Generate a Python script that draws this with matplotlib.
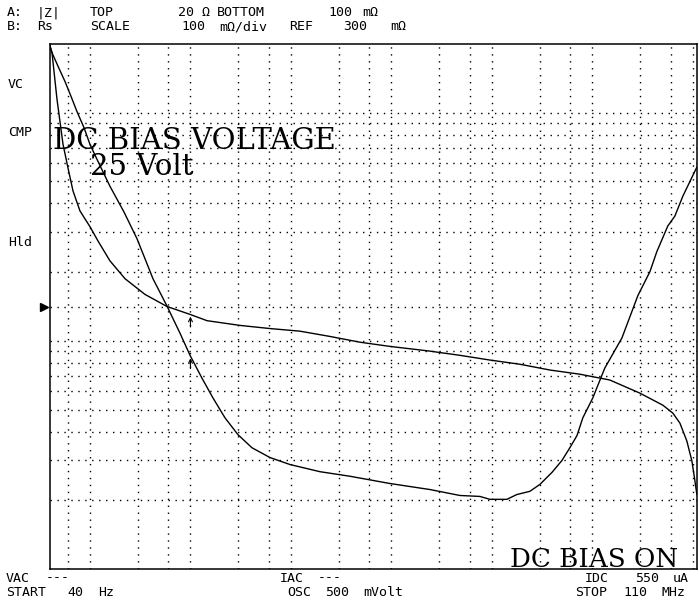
import numpy as np
import matplotlib
matplotlib.use("Agg")
import matplotlib.pyplot as plt
from matplotlib.transforms import blended_transform_factory

# Trace A: |Z| (ohm) vs frequency (Hz), log-log display
z_freq = [40, 41.9, 48, 56.4, 64.7, 74.3, 87.2, 100, 120, 158, 218, 294, 424, 584,
          787, 989, 1300, 1675, 2205, 2970, 4090, 6180, 9780, 19440, 38640, 96600,
          241600, 480800, 760000, 955000, 1.41e6, 1.77e6, 2.39e6, 3.01e6, 3.96e6,
          4.98e6, 5.97e6, 7.02e6, 8.04e6, 1.01e7, 1.33e7, 1.97e7, 2.84e7, 3.74e7,
          4.38e7, 5.64e7, 6.62e7, 7.96e7, 1.096e8]
z_mag = [19.6, 18.3, 16.0, 13.7, 11.8, 10.1, 8.6, 7.26, 6.12, 4.76, 3.67, 2.80, 1.87,
         1.42, 1.08, 0.865, 0.687, 0.562, 0.460, 0.388, 0.340, 0.308, 0.287, 0.267,
         0.255, 0.237, 0.223, 0.210, 0.208, 0.202, 0.202, 0.212, 0.219, 0.235, 0.265,
         0.299, 0.340, 0.384, 0.460, 0.562, 0.760, 1.03, 1.58, 2.01, 2.46, 3.19, 3.52,
         4.31, 5.77]

# Trace B: Rs (milliohm) vs frequency (Hz), linear 100 mohm/div
rs_freq = [40, 41.9, 47, 53.9, 61, 67.8, 79.5, 100, 120, 158, 223, 353, 584, 989, 1460,
           3110, 6180, 12300, 24400, 48600, 96600, 241600, 480800, 955000, 1.90e6,
           3.78e6, 7.52e6, 1.49e7, 2.97e7, 4.0e7, 5.03e7, 6.32e7, 7.43e7, 8.71e7,
           9.78e7, 1.047e8, 1.096e8]
rs_val = [796, 783, 694, 609, 560, 520, 482, 452, 425, 387, 353, 323, 300, 285, 273,
          264, 258, 253, 243, 232, 224, 215, 207, 198, 190, 179, 171, 160, 135, 122,
          112, 97, 78, 44, 6, -31, -58]

# Sweep and display settings
f_start, f_stop = 40, 110e6
z_top, z_bottom = 20, 0.1
rs_ref, rs_div = 300, 100
marker_freq = 1000

# Frequency grid: 1, 3, 6 per decade
x_grid = [m * 10 ** e for e in range(1, 9) for m in (1, 3, 6)]
x_grid = [g for g in x_grid if f_start < g < f_stop]
# Magnitude grid: 0.2 ... 10 ohm
y_grid = [m * 10 ** e for e in (-1, 0) for m in range(1, 10)] + [10]
y_grid = [g for g in y_grid if z_bottom < g < z_top]

W, H = 699, 601
fig = plt.figure(figsize=(W / 100, H / 100), dpi=100)
fig.patch.set_facecolor("white")

L, R, T, B = 50, 697, 44, 569
ax = fig.add_axes([L / W, 1 - B / H, (R - L) / W, (B - T) / H])
ax.set_xscale("log")
ax.set_yscale("log")
ax.set_xlim(f_start, f_stop)
ax.set_ylim(z_bottom, z_top)
ax.set_xticks([])
ax.set_yticks([])
ax.minorticks_off()
for s in ax.spines.values():
    s.set_linewidth(1.1)
    s.set_color("black")

dot = dict(color="black", lw=1.0, linestyle=(0, (1, 4)), zorder=1)
for g in x_grid:
    ax.axvline(g, **dot)
for g in y_grid:
    ax.axhline(g, **dot)

ax2 = ax.twinx()
ax2.set_ylim(rs_ref - 5 * rs_div, rs_ref + 5 * rs_div)
ax2.set_yticks([])
ax2.minorticks_off()
for s in ax2.spines.values():
    s.set_visible(False)
ax2.axhline(rs_ref, **dot)

ax.plot(z_freq, z_mag, color="black", lw=1.0, zorder=3)
ax2.plot(rs_freq, rs_val, color="black", lw=1.0, zorder=3)

# Marker arrows at the marker frequency
lf = np.log10(marker_freq)
z_m = 10 ** np.interp(lf, np.log10(z_freq), np.log10(z_mag))
rs_m = np.interp(lf, np.log10(rs_freq), rs_val)
arrow = dict(arrowstyle="->", lw=0.8, color="black", shrinkA=0, shrinkB=1.5,
             mutation_scale=7)
ax.annotate("", xy=(marker_freq, z_m), xytext=(0, -9), textcoords="offset points",
            arrowprops=arrow, annotation_clip=False)
ax2.annotate("", xy=(marker_freq, rs_m), xytext=(0, -9), textcoords="offset points",
             arrowprops=arrow, annotation_clip=False)

# Reference pointer for trace B
tr = blended_transform_factory(ax.transAxes, ax2.transData)
ax2.plot([-0.0095], [rs_ref], marker=">", color="black", markersize=6,
         transform=tr, clip_on=False)

mono = dict(family="DejaVu Sans Mono", fontsize=9.5, color="black", va="center")


def px_text(x, y, s, ha="left", **kw):
    d = dict(mono)
    d.update(kw)
    fig.text(x / W, 1 - y / H, s, ha=ha, **d)


# Header
for x, s in [(7, "A:"), (37, "|Z|"), (90, "TOP"), (178, "20"), (201, "Ω"),
             (217, "BOTTOM"), (328, "100"), (362, "mΩ")]:
    px_text(x, 13, s)
for x, s in [(7, "B:"), (37, "Rs"), (90, "SCALE"), (181, "100"), (219, "mΩ/div"),
             (289, "REF"), (343, "300"), (390, "mΩ")]:
    px_text(x, 27, s)

# Side annotations
px_text(8, 84, "VC")
px_text(8, 132, "CMP")
px_text(8, 243, "Hld")

# Footer
for x, s in [(6, "VAC"), (46, "---")]:
    px_text(x, 578, s)
for x, s in [(6, "START"), (67, "40"), (98, "Hz")]:
    px_text(x, 592, s)
for x, s in [(280, "IAC"), (318, "---")]:
    px_text(x, 578, s)
for x, s in [(287, "OSC"), (325, "500"), (363, "mVolt")]:
    px_text(x, 592, s)
for x, s in [(585, "IDC"), (635, "550"), (673, "uA")]:
    px_text(x, 578, s)
for x, s in [(575, "STOP"), (623, "110"), (661, "MHz")]:
    px_text(x, 592, s)

serif = dict(family="DejaVu Serif", color="black", va="baseline")
fig.text(53 / W, 1 - 149 / H, "DC BIAS VOLTAGE", fontsize=21, **serif)
fig.text(90 / W, 1 - 175 / H, "25 Volt", fontsize=21, **serif)
fig.text(510 / W, 1 - 567 / H, "DC BIAS ON", fontsize=18.8, **serif)

fig.savefig("out.png", dpi=100, facecolor="white")
